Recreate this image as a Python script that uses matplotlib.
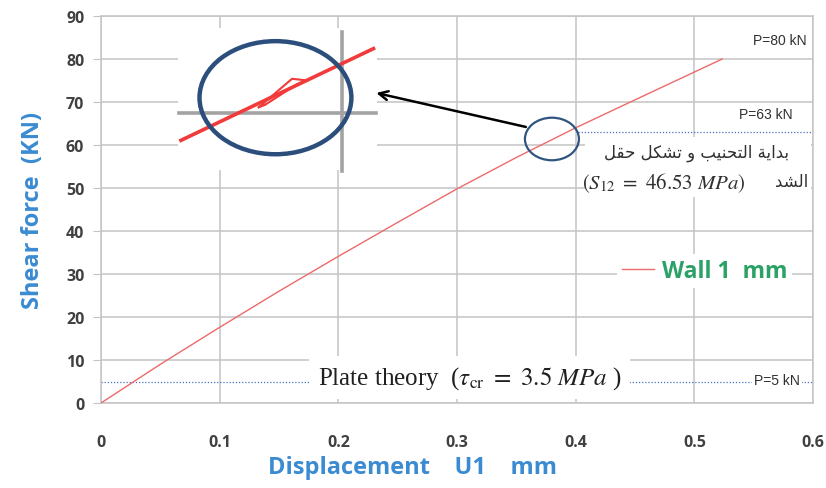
import matplotlib
matplotlib.use('Agg')
import matplotlib.pyplot as plt
from matplotlib.patches import Ellipse, Rectangle

# ---------------- data ----------------
disp = [0, 0.05, 0.1, 0.15, 0.2, 0.25, 0.3, 0.35, 0.4, 0.45, 0.5235]
force = [0, 9.0, 17.6, 26.0, 34.1, 42.0, 49.8, 57.1, 64.0, 70.5, 80]
series_label = 'Wall 1  mm'

x_ticks = [0, 0.1, 0.2, 0.3, 0.4, 0.5, 0.6]
x_tick_labels = ['0', '0.1', '0.2', '0.3', '0.4', '0.5', '0.6']
y_ticks = [0, 10, 20, 30, 40, 50, 60, 70, 80, 90]
y_tick_labels = [str(v) for v in y_ticks]

load_levels = [80, 63, 5]
load_labels = ['P=80 kN', 'P=63 kN', 'P=5 kN']
load_label_x = [0.595, 0.583, 0.589]
load_label_y = [84.4, 67.2, 5.4]

buckling_point = (0.38, 61.4)          # start of buckling (P = 63 kN)
plate_theory_level = 5                 # P = 5 kN (plate theory)

# schematic zoom inset (pasted picture in the original)
inset_line_x = [0.066, 0.231]
inset_line_y = [60.9, 82.6]
inset_loop_x = [0.133, 0.161, 0.174, 0.165, 0.138, 0.133]
inset_loop_y = [68.8, 75.4, 75.0, 74.1, 69.3, 68.8]
inset_hline_x = [0.066, 0.232]
inset_hline_y = [67.4, 67.4]
inset_vline_x = [0.203, 0.203]
inset_vline_y = [54.0, 86.3]
inset_circle = (0.147, 71.0, 0.128, 26.3)   # cx, cy, w, h
inset_box = (0.065, 54.3, 0.168, 33.0)      # x0, y0, w, h

arabic_line1 = 'بداية التحنيب و تشكل حقل'
arabic_line2 = 'الشد'
note_math = r'$(S_{12}\ =\ 46.53\ MPa)$'
plate_note = r'Plate theory  ($\tau_{\rm cr}\ =\ 3.5\ MPa$ )'

# ---------------- simple Arabic shaping ----------------
FORMS = {
    'ا': (0xFE8D, 0xFE8E, None, None),
    'ب': (0xFE8F, 0xFE90, 0xFE91, 0xFE92),
    'ة': (0xFE93, 0xFE94, None, None),
    'ت': (0xFE95, 0xFE96, 0xFE97, 0xFE98),
    'ح': (0xFEA1, 0xFEA2, 0xFEA3, 0xFEA4),
    'د': (0xFEA9, 0xFEAA, None, None),
    'ش': (0xFEB5, 0xFEB6, 0xFEB7, 0xFEB8),
    'ق': (0xFED5, 0xFED6, 0xFED7, 0xFED8),
    'ك': (0xFED9, 0xFEDA, 0xFEDB, 0xFEDC),
    'ل': (0xFEDD, 0xFEDE, 0xFEDF, 0xFEE0),
    'ن': (0xFEE5, 0xFEE6, 0xFEE7, 0xFEE8),
    'و': (0xFEED, 0xFEEE, None, None),
    'ي': (0xFEF1, 0xFEF2, 0xFEF3, 0xFEF4),
}


def shape_arabic(text):
    out = []
    n = len(text)
    for i, ch in enumerate(text):
        if ch not in FORMS:
            out.append(ch)
            continue
        iso, fin, ini, med = FORMS[ch]
        prev = text[i - 1] if i > 0 else None
        nxt = text[i + 1] if i < n - 1 else None
        pc = prev in FORMS and FORMS[prev][2] is not None
        nc = (nxt in FORMS) and ini is not None
        if pc and nc:
            cp = med
        elif pc:
            cp = fin
        elif nc:
            cp = ini
        else:
            cp = iso
        out.append(chr(cp))
    return ''.join(out)[::-1]


# ---------------- figure ----------------
plt.rcParams['mathtext.fontset'] = 'stix'
fig = plt.figure(figsize=(8.26, 4.89), dpi=100)
ax = fig.add_axes([101 / 826, 1 - 404 / 489, 712 / 826, 387 / 489])

grid_c = '#c4c4c4'
ax.set_xlim(0, 0.6)
ax.set_ylim(0, 90)
ax.set_xticks(x_ticks)
ax.set_xticklabels(x_tick_labels)
ax.set_yticks(y_ticks)
ax.set_yticklabels(y_tick_labels)
ax.set_axisbelow(True)
ax.grid(True, color=grid_c, linewidth=1.1)
for s in ax.spines.values():
    s.set_color(grid_c)
    s.set_linewidth(1.1)
ax.tick_params(axis='x', length=0, pad=22, labelsize=11.5, labelcolor='#404040')
ax.tick_params(axis='y', length=6, color=grid_c, pad=6, labelsize=11.5, labelcolor='#404040')
for lab in ax.get_xticklabels() + ax.get_yticklabels():
    lab.set_fontfamily('Open Sans')
    lab.set_fontweight('bold')

ax.set_xlabel('Displacement    U1    mm', fontfamily='Open Sans', fontweight='bold',
              fontsize=17, color='#3a8bd2')
ax.xaxis.set_label_coords(0.438, -0.135)
ax.set_ylabel('Shear force  (KN)', fontfamily='Open Sans', fontweight='bold',
              fontsize=17, color='#3a8bd2')
ax.yaxis.set_label_coords(-0.078, 0.5)

# main curve
ax.plot(disp, force, color='#ec6a6a', linewidth=1.0, label=series_label, zorder=3)

# reference load levels (dotted)
ax.plot([buckling_point[0] + 0.022, 0.6], [load_levels[1]] * 2, linestyle=(0, (1, 1.5)),
        color='#4a6fc0', linewidth=0.9, zorder=2)
ax.plot([0, 0.6], [plate_theory_level] * 2, linestyle=(0, (1, 1.5)),
        color='#4a6fc0', linewidth=0.9, zorder=2)

for lx, ly, lt in zip(load_label_x, load_label_y, load_labels):
    ax.text(lx, ly, lt, ha='right', va='center', fontsize=10,
            fontfamily='Liberation Sans', color='#303030', zorder=6,
            bbox=dict(facecolor='white', edgecolor='none', pad=1.5))

# circle at start of buckling
ax.add_patch(Ellipse(buckling_point, 0.0455, 9.9, fill=False, edgecolor='#2f5580',
                     linewidth=1.6, zorder=5))

# inset picture
ax.add_patch(Rectangle(inset_box[:2], inset_box[2], inset_box[3], facecolor='white',
                       edgecolor='none', zorder=1.5))
ax.plot(inset_hline_x, inset_hline_y, color='#a3a3a3', linewidth=2.6, zorder=2)
ax.plot(inset_vline_x, inset_vline_y, color='#a3a3a3', linewidth=2.6, zorder=2)
ax.plot(inset_line_x, inset_line_y, color='#f23a3a', linewidth=2.6, zorder=3,
        solid_capstyle='butt')
ax.plot(inset_loop_x, inset_loop_y, color='#f23a3a', linewidth=1.5, zorder=3)
cx, cy, cw, ch = inset_circle
ax.add_patch(Ellipse((cx, cy), cw, ch, fill=False, edgecolor='#2b4e7c', linewidth=3.2,
                     zorder=4))

# arrow
ax.annotate('', xy=(0.232, 72.1), xytext=(0.358, 64.2),
            arrowprops=dict(arrowstyle='->', color='black', lw=1.8, mutation_scale=16,
                            shrinkA=0, shrinkB=0), zorder=6)

# Arabic note (white box + two lines)
ax.add_patch(Rectangle((0.408, 47.9), 0.19, 14.0, facecolor='white', edgecolor='none',
                       zorder=5.5))
ax.text(0.502, 58.3, shape_arabic(arabic_line1), ha='center', va='center', fontsize=12,
        fontfamily='DejaVu Sans', color='#303030', zorder=6)
ax.text(0.543, 51.4, note_math, ha='right', va='center', fontsize=15,
        color='#303030', zorder=6)
ax.text(0.596, 51.6, shape_arabic(arabic_line2), ha='right', va='center', fontsize=12,
        fontfamily='DejaVu Sans', color='#303030', zorder=6)

# plate theory note
ax.text(0.3105, 6.0, plate_note, ha='center', va='center', fontsize=18,
        fontfamily='Liberation Serif', color='#202020',
        bbox=dict(facecolor='white', edgecolor='none', pad=6), zorder=6)

# legend
leg = ax.legend(loc='center', bbox_to_anchor=(0.848, 0.341), frameon=True,
                facecolor='white', edgecolor='none', framealpha=1, handlelength=1.4,
                handletextpad=0.35, borderpad=0.2, fancybox=False,
                prop={'family': 'Open Sans', 'weight': 'bold', 'size': 16.5})
for t in leg.get_texts():
    t.set_color('#2aa266')
leg.set_zorder(7)

fig.savefig('out.png', dpi=100)
